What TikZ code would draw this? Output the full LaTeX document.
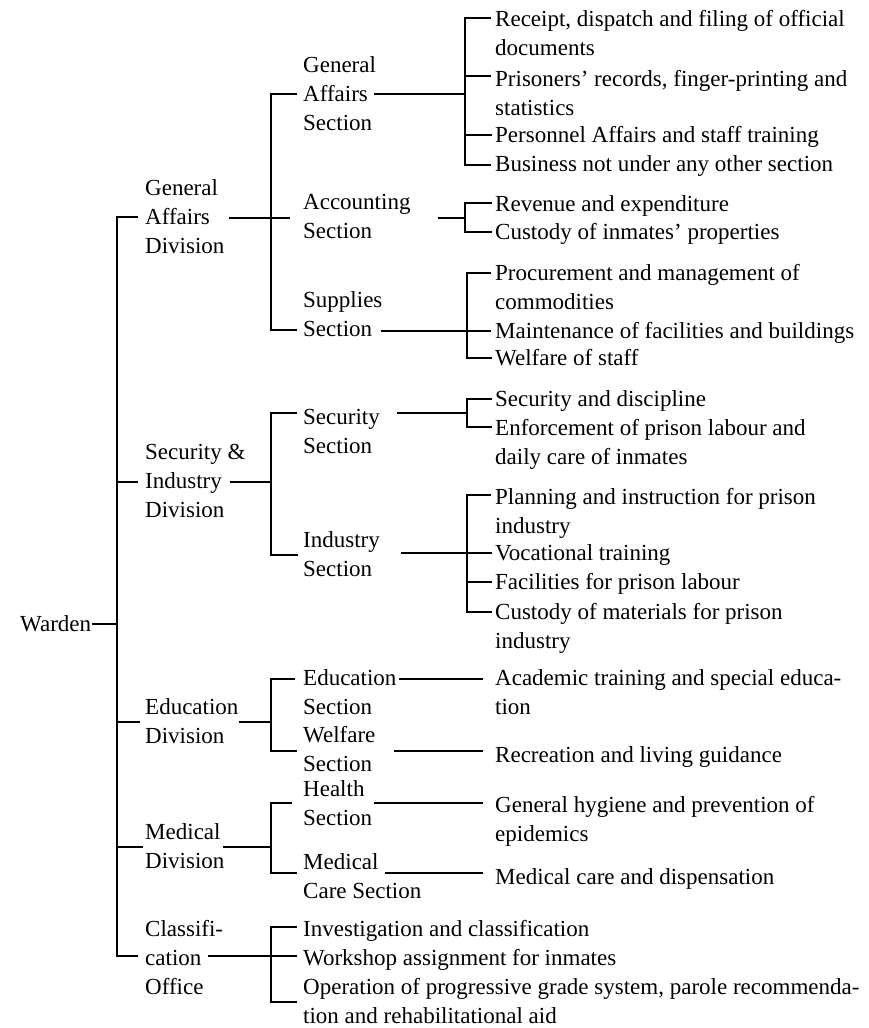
\documentclass[tikz,border=0pt]{standalone}
\usepackage{fontspec}
\setmainfont{Liberation Serif}

\tikzset{
  tie/.style={line width=1.2pt},
  txt/.style={anchor=base west, inner sep=0pt, align=left,
    font=\fontsize{23}{29}\selectfont},
}

\begin{document}
\begin{tikzpicture}[x=1pt,y=-1pt]
    \useasboundingbox (0,0) rectangle (869,1028);

    % labels, left to right (placed at the baseline of the last line)
    \node[txt] (warden) at (20,631) {Warden};

    \node[txt] (gad) at (145,253) {General\\Affairs\\Division};
    \node[txt] (sid) at (145,517) {Security \&\\Industry\\Division};
    \node[txt] (edd) at (145,743) {Education\\Division};
    \node[txt] (mdd) at (145,868) {Medical\\Division};
    \node[txt] (cfo) at (145,994) {Classifi-\\cation\\Office};

    \node[txt] (gas) at (303,130) {General\\Affairs\\Section};
    \node[txt] (acs) at (303,238) {Accounting\\Section};
    \node[txt] (sus) at (303,336) {Supplies\\Section};
    \node[txt] (scs) at (303,453) {Security\\Section};
    \node[txt] (ins) at (303,576) {Industry\\Section};
    \node[txt] (eds) at (303,714) {Education\\Section};
    \node[txt] (wfs) at (303,771) {Welfare\\Section};
    \node[txt] (hls) at (303,825) {Health\\Section};
    \node[txt] (mcs) at (303,898) {Medical\\Care Section};

    \node[txt] (ga1) at (495,55) {Receipt, dispatch and filing of official\\documents};
    \node[txt] (ga2) at (495,115) {Prisoners' records, finger-printing and\\statistics};
    \node[txt] (ga3) at (495,142) {Personnel Affairs and staff training};
    \node[txt] (ga4) at (495,171) {Business not under any other section};
    \node[txt] (ac1) at (495,211) {Revenue and expenditure};
    \node[txt] (ac2) at (495,239) {Custody of inmates' properties};
    \node[txt] (su1) at (495,309) {Procurement and management of\\commodities};
    \node[txt] (su2) at (495,338) {Maintenance of facilities and buildings};
    \node[txt] (su3) at (495,365) {Welfare of staff};
    \node[txt] (sc1) at (495,406) {Security and discipline};
    \node[txt] (sc2) at (495,464) {Enforcement of prison labour and\\daily care of inmates};
    \node[txt] (in1) at (495,533) {Planning and instruction for prison\\industry};
    \node[txt] (in2) at (495,560) {Vocational training};
    \node[txt] (in3) at (495,589) {Facilities for prison labour};
    \node[txt] (in4) at (495,648) {Custody of materials for prison\\industry};
    \node[txt] (ed1) at (495,714) {Academic training and special educa-\\tion};
    \node[txt] (wf1) at (495,762) {Recreation and living guidance};
    \node[txt] (hl1) at (495,841) {General hygiene and prevention of\\epidemics};
    \node[txt] (mc1) at (495,884) {Medical care and dispensation};

    \node[txt] (cf1) at (303,936) {Investigation and classification};
    \node[txt] (cf2) at (303,965) {Workshop assignment for inmates};
    \node[txt] (cf3) at (303,1023) {Operation of progressive grade system, parole recommenda-\\tion and rehabilitational aid};

    % bracket joints
    \coordinate (m0) at (117,217);
    \coordinate (m1) at (117,482);
    \coordinate (mw) at (117,624);
    \coordinate (m2) at (117,722);
    \coordinate (m3) at (117,847);
    \coordinate (m4) at (117,956);

    \coordinate (g0) at (271,94);
    \coordinate (g1) at (271,218);
    \coordinate (g2) at (271,330);
    \coordinate (k0) at (271,413);
    \coordinate (k1) at (271,482);
    \coordinate (k2) at (271,555);
    \coordinate (e0) at (271,679);
    \coordinate (e1) at (271,722);
    \coordinate (e2) at (271,751);
    \coordinate (d0) at (271,803);
    \coordinate (d1) at (271,847);
    \coordinate (d2) at (271,873);
    \coordinate (c0) at (271,927);
    \coordinate (c1) at (271,956);
    \coordinate (c2) at (271,1002);

    \coordinate (a0) at (465,18);
    \coordinate (a1) at (465,76);
    \coordinate (aj) at (465,94);
    \coordinate (a2) at (465,135);
    \coordinate (a3) at (465,165);
    \coordinate (b0) at (465,203);
    \coordinate (bj) at (465,218);
    \coordinate (b1) at (465,232);
    \coordinate (p0) at (467,273);
    \coordinate (p1) at (467,331);
    \coordinate (p2) at (467,358);
    \coordinate (q0) at (467,399);
    \coordinate (qj) at (467,413);
    \coordinate (q1) at (467,427);
    \coordinate (i0) at (467,495);
    \coordinate (i1) at (467,553);
    \coordinate (i2) at (467,582);
    \coordinate (i3) at (467,612);

    % warden and divisions
    \draw[tie] ([xshift=1pt]warden.east |- mw) -- (mw);
    \draw[tie] ([xshift=-7pt]gad.west |- m0) -- (m0) -- (m4) -- ([xshift=-7pt]cfo.west |- m4);
    \draw[tie] (m1) -- ([xshift=-7pt]sid.west |- m1);
    \draw[tie] (m2) -- ([xshift=-5pt]edd.west |- m2);
    \draw[tie] (m3) -- ([xshift=-2pt]mdd.west |- m3);

    % divisions to sections
    \draw[tie] ([xshift=4pt]gad.east |- g1) -- ([xshift=-13pt]acs.west |- g1);
    \draw[tie] ([xshift=-6pt]gas.west |- g0) -- (g0) -- (g2) -- ([xshift=-6pt]sus.west |- g2);
    \draw[tie] ([xshift=-16pt]sid.east |- k1) -- (k1);
    \draw[tie] ([xshift=-6pt]scs.west |- k0) -- (k0) -- (k2) -- ([xshift=-5pt]ins.west |- k2);
    \draw[tie] (edd.east |- e1) -- (e1);
    \draw[tie] ([xshift=-8pt]eds.west |- e0) -- (e0) -- (e2) -- ([xshift=-6pt]wfs.west |- e2);
    \draw[tie] ([xshift=-2pt]mdd.east |- d1) -- (d1);
    \draw[tie] ([xshift=-11pt]hls.west |- d0) -- (d0) -- (d2) -- ([xshift=-6pt]mcs.west |- d2);
    \draw[tie] ([xshift=-15pt]cfo.east |- c1) -- ([xshift=-6pt]cf2.west |- c1);
    \draw[tie] ([xshift=-6pt]cf1.west |- c0) -- (c0) -- (c2) -- ([xshift=-6pt]cf3.west |- c2);

    % sections to duties
    \draw[tie] ([xshift=-2pt]gas.east |- aj) -- (aj);
    \draw[tie] ([xshift=-4pt]ga1.west |- a0) -- (a0) -- (a3) -- ([xshift=-4pt]ga4.west |- a3);
    \draw[tie] (a1) -- ([xshift=-4pt]ga2.west |- a1);
    \draw[tie] (a2) -- ([xshift=-3pt]ga3.west |- a2);
    \draw[tie] ([xshift=27pt]acs.east |- bj) -- (bj);
    \draw[tie] ([xshift=-3pt]ac1.west |- b0) -- (b0) -- (b1) -- ([xshift=-3pt]ac2.west |- b1);
    \draw[tie] ([xshift=-2pt]sus.east |- p1) -- ([xshift=-4pt]su2.west |- p1);
    \draw[tie] ([xshift=-4pt]su1.west |- p0) -- (p0) -- (p2) -- ([xshift=-3pt]su3.west |- p2);
    \draw[tie] ([xshift=17pt]scs.east |- qj) -- (qj);
    \draw[tie] ([xshift=-3pt]sc1.west |- q0) -- (q0) -- (q1) -- ([xshift=-3pt]sc2.west |- q1);
    \draw[tie] ([xshift=21pt]ins.east |- i1) -- ([xshift=-3pt]in2.west |- i1);
    \draw[tie] ([xshift=-4pt]in1.west |- i0) -- (i0) -- (i3) -- ([xshift=-3pt]in4.west |- i3);
    \draw[tie] (i2) -- ([xshift=-3pt]in3.west |- i2);
    \draw[tie] ([xshift=2pt]eds.east |- e0) -- ([xshift=-12pt]ed1.west |- e0);
    \draw[tie] ([xshift=18pt]wfs.east |- e2) -- ([xshift=-12pt]wf1.west |- e2);
    \draw[tie] ([xshift=2pt]hls.east |- d0) -- ([xshift=-12pt]hl1.west |- d0);
    \draw[tie] ([xshift=82pt]mcs.west |- d2) -- ([xshift=-12pt]mc1.west |- d2);
\end{tikzpicture}
\end{document}
